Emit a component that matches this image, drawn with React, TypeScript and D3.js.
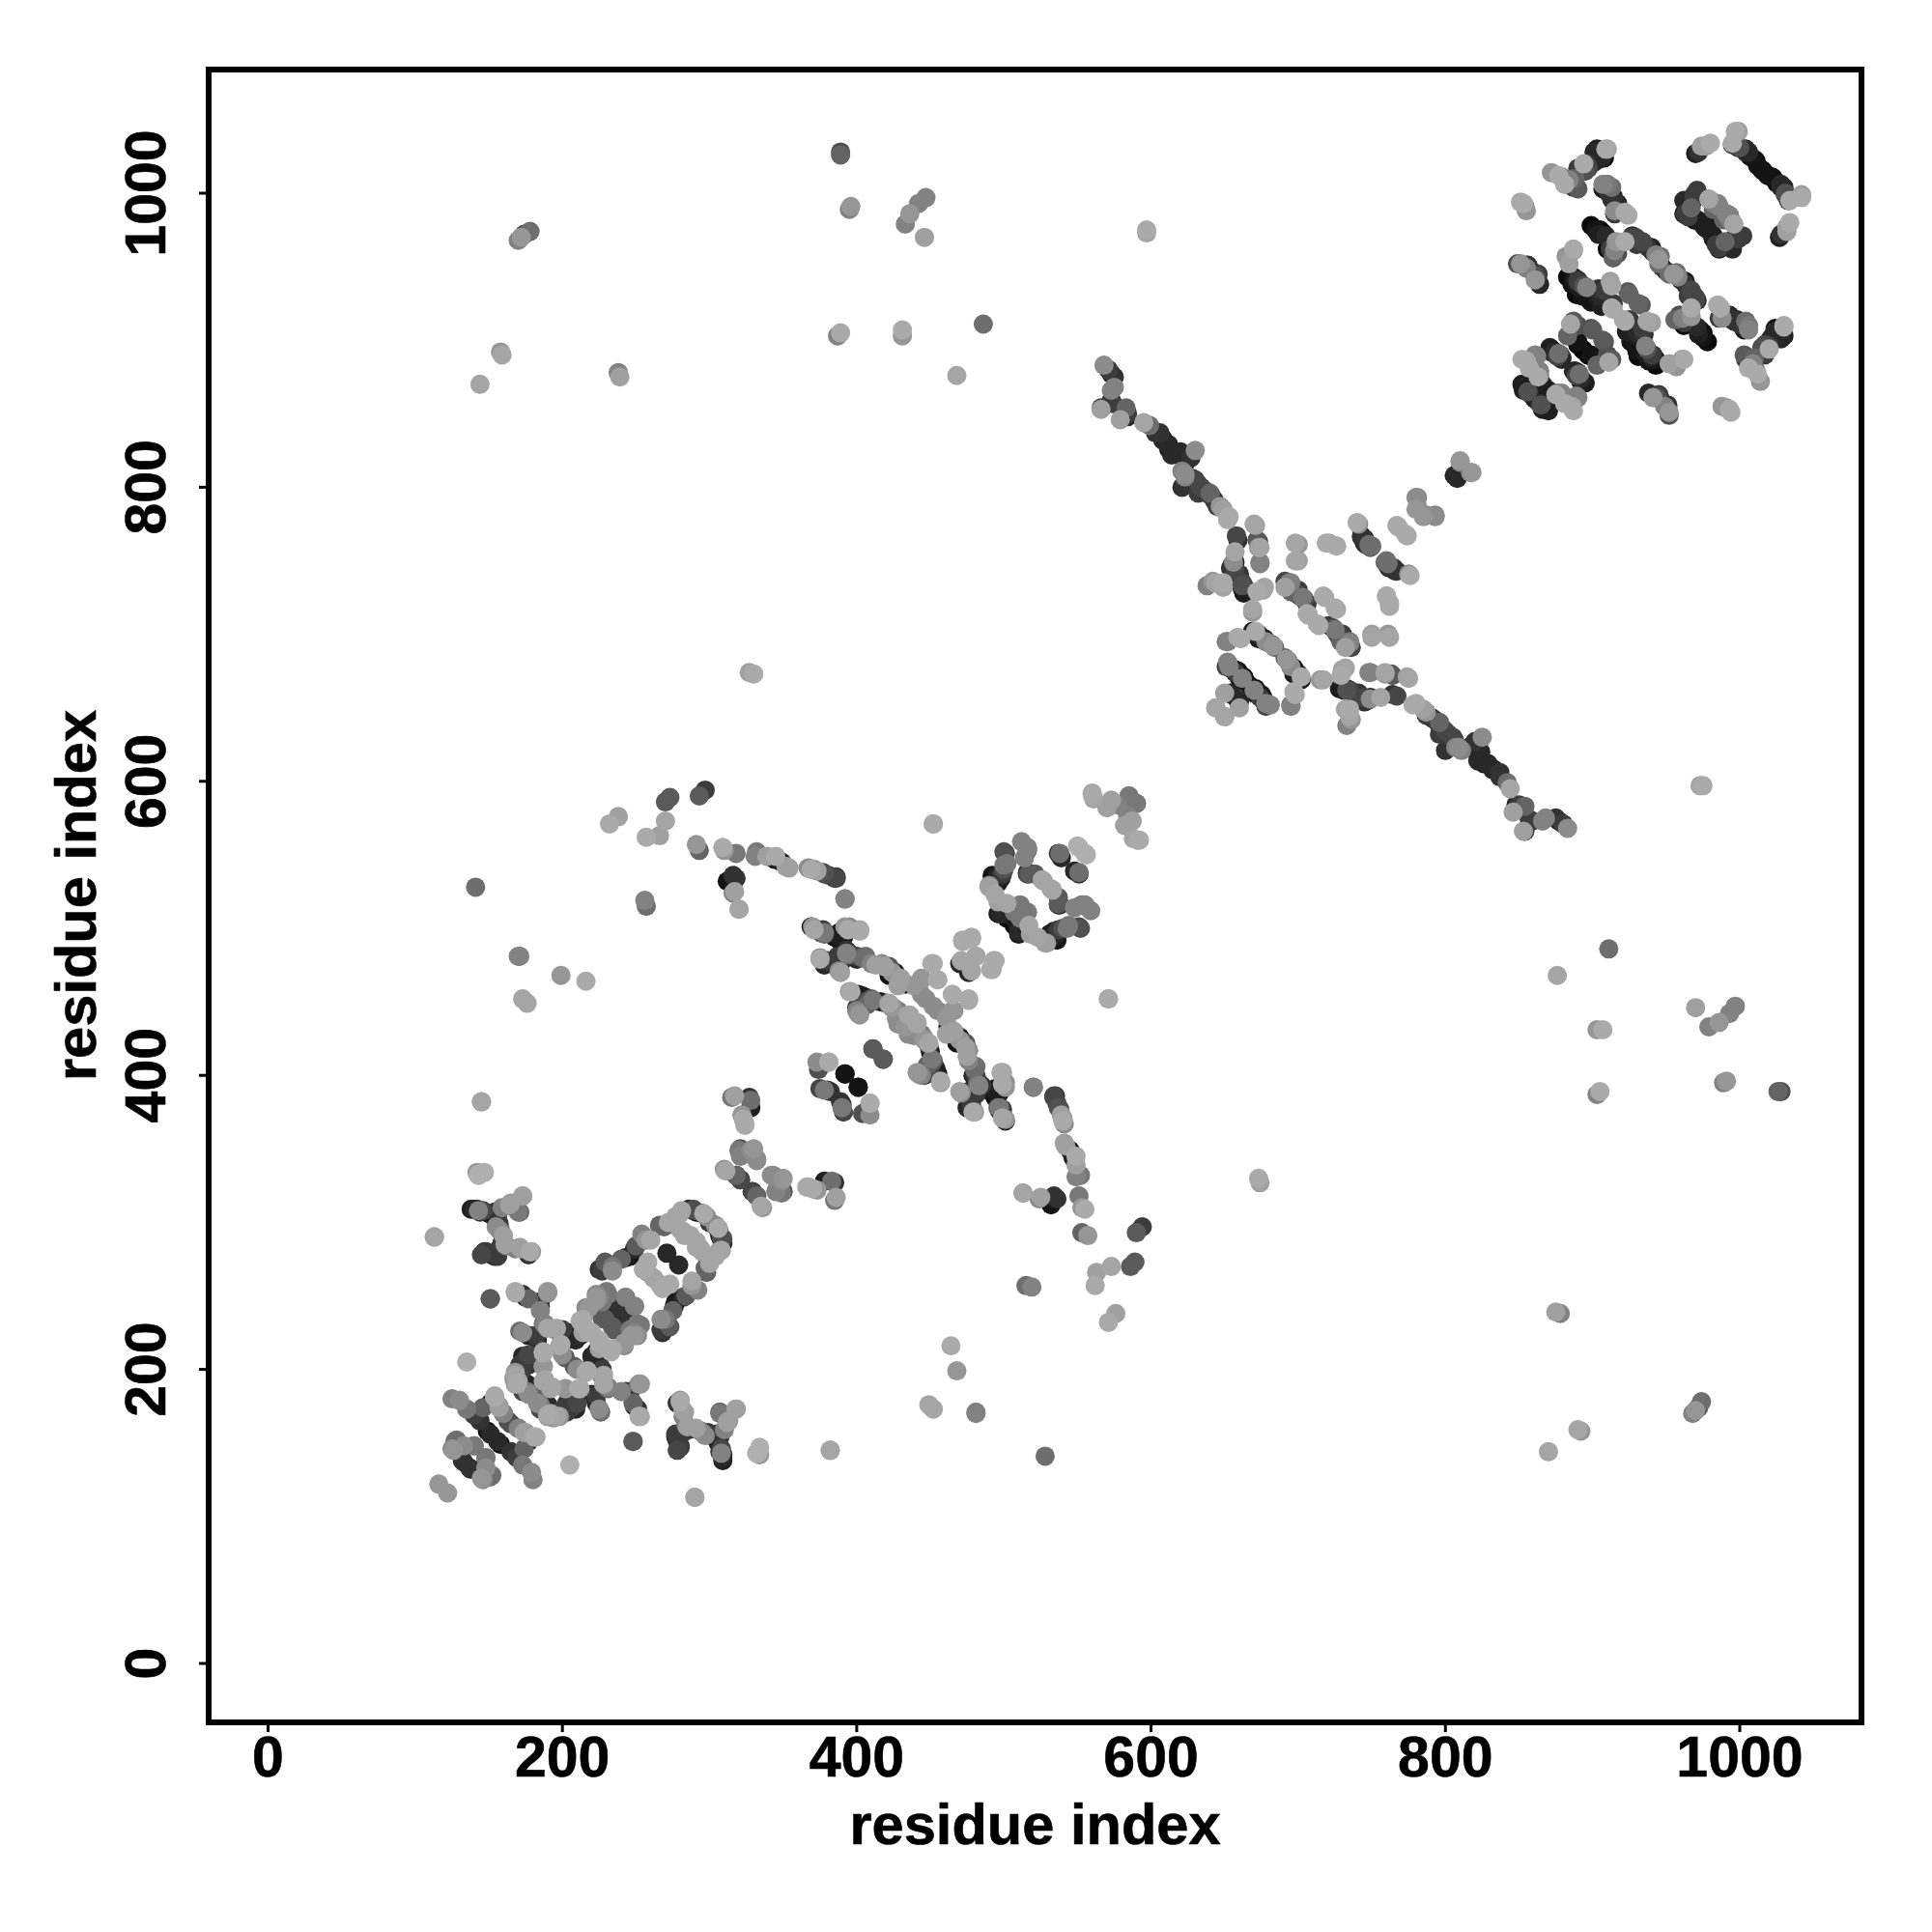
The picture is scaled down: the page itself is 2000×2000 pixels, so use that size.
import React from "react";
import * as d3 from "d3";

type C = [number, number, number];
const tickValues = [0, 200, 400, 600, 800, 1000];
const axisTitle = "residue index";

// Contact pairs: [residue i, residue j, grey level]. The map is symmetric, so each is drawn at (i,j) and (j,i).
const sparseContacts: C[] = [
[170,968,130],[174,972,80],[178,974,110],[172,970,150],[158,892,150],[159,890,165],[144,870,165],[238,878,130],[239,875,160],
[389,1026,100],[389,1028,80],[396,991,150],[395,989,130],[433,979,130],[436,986,150],[442,993,130],[447,997,130],[446,970,160],
[389,905,170],[387,903,130],[431,907,170],[431,903,150],[486,911,110],[468,876,165],[597,975,170],[330,673,170],[327,674,160],
[141,528,110],[170,481,130],[171,481,130],[173,452,165],[176,449,165],[199,468,150],[216,464,170],[145,382,165],
[232,571,170],[238,576,160],[257,562,170],[266,563,160],[270,573,165],[270,586,90],[273,589,90],[293,590,90],[297,594,60],
[291,557,150],[293,553,100],[256,519,130],[257,515,110],[309,555,170],[318,551,120],[316,536,50],[312,532,20],[320,513,165],[316,524,130],
[315,385,120],[327,385,50],[322,373,150],[324,367,165],[534,385,60],[539,373,160],[542,352,130],[549,331,130],[553,310,150],[534,318,50],[513,320,160],[525,317,160],
[806,808,40],[810,817,130],[818,810,150],[973,597,165],
];
const lowerLeftContacts: C[] = [
[143,332,175],[142,334,150],[113,290,165],[142,309,40],[146,308,70],[150,306,30],[156,305,40],[159,310,130],[165,313,150],[173,318,160],[170,307,120],
[157,295,130],[160,291,160],[147,280,60],[152,278,40],[156,277,60],[161,285,160],[168,282,130],[177,279,40],[172,282,160],[178,280,170],[151,248,90],
[168,253,170],[173,251,50],[177,248,100],[185,246,60],[190,253,150],[185,240,130],[188,231,130],[171,226,110],[177,223,40],[182,223,60],[190,228,165],[195,227,140],[200,227,60],
[175,207,60],[171,203,60],[167,194,150],[168,190,150],[173,185,70],[179,183,90],[185,176,120],[190,169,170],[196,168,165],[203,174,60],[210,177,70],
[187,211,170],[187,202,150],[188,193,165],[192,187,165],[202,187,150],[212,187,165],[199,217,170],[202,208,90],[210,200,140],[216,198,165],
[218,242,150],[213,233,170],[218,226,150],[225,249,130],[227,267,60],[234,270,120],[243,276,30],[249,282,40],[257,288,150],[254,292,130],[269,297,100],[272,300,165],[280,306,165],[289,308,20],[296,306,170],[304,298,140],[308,290,80],
[271,279,40],[255,268,170],[266,258,165],[283,291,165],[235,242,40],[240,237,50],[243,249,130],[249,243,120],[227,235,90],[234,229,90],[231,251,120],[223,249,150],[253,230,120],[247,223,150],
[234,214,165],[225,214,160],[220,209,40],[224,203,40],[228,196,165],[231,187,110],[243,185,40],[252,190,140],[225,173,140],[220,183,40],[249,175,30],[252,168,170],[248,151,90],
];
const bottomContacts: C[] = [
[125,180,130],[130,179,140],[135,173,120],[140,169,60],[144,165,50],[149,158,20],[156,151,40],[146,174,100],[154,182,165],[160,170,70],[157,175,150],[170,160,130],[174,157,160],[181,154,170],[177,151,40],[165,163,80],
[127,151,110],[125,146,140],[133,148,140],[140,148,120],[132,138,50],[137,133,50],[148,140,120],[152,128,110],[145,126,150],[116,122,150],[135,205,175],
[280,179,150],[278,177,50],[283,171,160],[278,154,50],[280,148,50],[286,159,50],[294,158,60],[299,157,60],[307,154,50],[308,143,130],[309,140,40],[307,171,100],[312,164,160],[318,173,150],
[333,143,170],[334,147,175],[290,113,150],[382,145,165],
[320,349,120],[332,343,110],[328,349,140],[310,336,150],[318,332,40],[321,329,70],[329,321,50],[335,311,165],[332,318,100],[342,332,140],[350,330,150],[350,321,80],[345,321,130],
[366,324,170],[370,323,170],[378,328,30],[383,328,110],[386,317,160],
];
const middleContacts: C[] = [
[452,571,160],[332,552,120],[339,549,160],[344,547,30],[352,542,160],[367,541,140],[371,540,130],[377,538,70],[381,536,70],[386,535,50],[392,520,120],
[370,501,150],[374,499,50],[378,497,120],[387,496,30],[392,501,150],[402,499,160],[375,480,150],[380,478,60],[388,476,30],[388,471,140],[395,483,60],[404,480,110],[417,476,140],[426,470,30],[430,466,160],
[395,457,160],[401,455,30],[410,452,90],[401,442,140],[405,448,80],[420,449,40],[425,446,140],[435,441,165],[441,436,165],[428,435,140],[444,428,120],[449,422,165],
[451,476,170],[455,465,170],[444,466,140],[444,455,140],[452,447,140],[465,455,170],[476,452,170],[465,444,150],[461,439,150],
[470,476,40],[478,471,165],[472,491,170],[478,494,170],[481,481,165],[492,472,165],[493,478,170],
[461,428,160],[468,427,30],[474,419,160],[481,406,110],[451,411,120],[454,404,30],[457,396,170],[441,402,150],[446,400,60],
[476,389,30],[479,375,170],[482,394,110],[470,389,160],[498,402,170],[499,394,170],[493,390,30],[496,378,100],[499,371,165],[497,376,40],[520,392,130],
[534,386,70],[537,378,80],[540,369,170],[541,354,160],[545,349,30],[549,345,170],[411,418,90],[418,411,90],
[376,407,80],[381,409,170],[392,401,20],[401,392,20],[380,390,40],[375,391,70],[389,382,50],[390,378,120],[404,374,80],[409,381,165],[409,373,140],
[500,552,80],[500,543,120],[516,555,130],[495,536,30],[490,529,150],[496,518,160],[498,510,40],[507,511,120],[516,511,120],[509,503,30],[517,502,165],[523,494,165],[534,496,40],[544,502,120],[551,501,70],
[516,537,60],[527,532,165],[533,526,165],[537,517,90],[554,516,130],[537,551,50],[539,548,40],[551,538,110],[550,556,175],[555,551,170],
[560,591,170],[573,587,150],[577,584,130],[585,590,120],[590,585,120],[587,573,160],[588,561,165],[592,560,165],[570,582,160],[571,452,170],
];
const helixContacts: C[] = [
[621,800,50],[632,796,60],[640,796,100],[647,787,150],[653,780,170],[670,775,165],[672,764,90],[658,767,70],[674,759,165],[657,756,165],[674,749,130],[655,747,30],[660,741,50],[662,735,70],[642,736,150],[649,735,170],[638,733,130],[677,732,165],[672,729,170],[669,717,165],
[698,762,165],[698,750,165],[719,762,170],[726,760,165],[694,735,130],[695,733,60],[703,725,120],[717,726,170],[725,718,170],[706,714,170],[713,707,170],[724,704,80],[730,700,60],[735,695,120],[732,691,160],
[740,776,170],[743,767,50],[750,760,110],[759,749,100],[765,745,50],[775,741,140],[767,774,170],[773,768,170],[780,793,140],[780,785,150],[793,781,130],[787,781,140],[760,726,170],[762,721,165],[750,700,160],[761,700,150],
[651,695,130],[659,698,170],[671,701,40],[675,698,20],[683,692,150],[693,682,90],[697,677,30],[702,671,170],[651,678,70],[657,676,30],[662,670,130],[671,663,20],[678,653,130],[654,660,40],[659,655,40],[644,650,160],[650,644,165],[660,650,160],[697,661,170],[695,652,120],[715,669,150],
[730,676,160],[748,674,130],[731,662,30],[738,660,40],[749,656,140],[764,659,50],[759,673,150],[763,673,60],[774,671,160],[735,644,165],[732,649,165],
[778,652,170],[785,649,160],[794,641,60],[798,636,40],[802,632,60],[806,628,50],[809,623,140],[825,630,140],[820,627,50],[824,620,40],[829,612,40],[833,608,30],[837,603,50],[844,595,165],[850,584,60],[846,579,160],[857,574,60],[853,566,160],[875,575,50],[883,568,140],[866,573,130],
];
const cterminalContacts: C[] = [
[997,1042,170],[974,1032,160],[980,1034,170],[970,1027,30],[995,1033,60],[1004,1028,40],[1011,1022,10],[1019,1012,20],[1028,1006,40],[1034,995,170],[1042,999,160],[1031,1000,80],[1028,972,50],[1032,977,160],
[969,999,60],[965,991,30],[969,982,20],[980,995,130],[985,993,130],[977,976,30],[984,965,60],[991,986,130],[996,979,165],[999,970,50],[990,967,100],
[909,1030,170],[903,1030,30],[896,1020,60],[890,1017,60],[872,1014,150],[879,1011,100],[887,1004,60],[881,1006,170],[907,1006,130],[913,1004,110],[913,996,50],[922,987,170],[915,988,140],[854,991,140],[851,994,170],
[902,975,20],[909,971,40],[915,965,50],[912,962,60],[922,967,170],[927,970,70],[938,963,50],[934,967,70],[946,957,110],[952,945,110],[958,943,130],[962,940,30],[970,929,60],[887,962,170],[882,957,150],
[849,952,80],[855,951,40],[861,944,80],[887,943,20],[894,937,80],[899,931,20],[905,930,40],[912,940,160],[924,933,90],[931,925,100],[913,922,170],[921,914,165],
[961,915,130],[969,910,10],[975,905,10],[959,917,80],[985,924,170],[986,915,60],[995,914,50],[1006,910,120],[1030,910,165],[1024,906,40],[1017,897,70],[1003,890,90],[1012,877,170],[1009,884,130],
[887,913,90],[899,908,80],[907,900,90],[890,897,10],[897,890,10],[911,885,165],[910,890,80],[925,914,60],[937,913,165],[927,901,20],[931,889,10],[941,890,50],[936,896,130],[952,884,160],[961,887,150],
[941,861,150],[951,856,50],[952,851,150],[945,863,60],[988,855,150],[993,853,170],[861,890,130],[852,887,170],[878,890,40],[872,892,30],[863,875,170],[891,877,110],[887,879,40],[893,873,30],[853,866,30],[864,857,40],[876,864,130],[889,862,130],[886,855,165],[870,866,30],
];
// Further contacts read from the dense strands.
const denseStrandContacts: C[] = [
[787,645,60],[791,643,50],[796,638,50],[800,634,70],[805,630,70],[807,623,130],[811,621,130],[816,623,40],[822,614,40],[826,612,30],[832,608,40],[837,606,50],[842,599,110],[848,584,40],[854,583,100],[859,573,60],[854,566,60],[868,575,130],[877,573,40],[880,571,60],
[225,268,50],[229,273,90],[234,267,140],[240,275,100],[246,277,20],[250,284,90],[260,288,165],[266,298,100],[275,301,165],[281,308,165],[286,309,30],[291,307,15],[300,300,60],[306,295,20],[309,289,80],[280,295,165],[287,291,165],[294,282,165],[299,273,100],[304,277,165],[258,273,170],[262,262,165],[269,256,165],
[216,242,140],[212,233,170],[223,251,140],[227,246,120],[220,225,170],[225,218,170],[231,214,170],[223,212,30],[220,203,40],[225,207,30],
[168,198,150],[173,209,40],[177,203,50],[176,190,40],[181,183,100],[183,177,140],[192,170,165],[205,178,40],[200,173,60],
[138,309,30],[144,307,50],[154,303,20],[155,297,140],[145,278,70],[154,277,40],[157,282,60],[162,284,130],
[492,536,20],[494,533,30],[496,531,30],[532,494,20],[534,498,30],[537,499,60],[540,500,80],[528,490,160],[496,510,30],[507,502,10],[510,498,40],[516,538,30],[521,537,90],[512,559,130],[516,553,100],[514,548,130],
[389,477,40],[387,481,60],[393,485,50],[400,481,70],[410,476,130],[422,474,90],[422,468,20],[400,455,20],[405,450,70],[416,450,30],[422,448,150],[427,439,140],[433,433,150],[438,428,50],[446,424,150],[400,444,130],
[462,433,30],[465,428,40],[470,424,150],[475,413,160],[479,400,40],[483,393,130],[474,387,20],[475,378,40],[491,389,20],[494,391,30],[499,377,60],[369,501,30],[385,494,20],[388,497,30],[395,501,140],[385,477,20],[377,478,30],[448,407,100],[453,406,20],
[901,1028,40],[894,1020,170],[890,1014,60],[887,1010,60],[904,1023,30],[907,1003,30],[911,1000,50],[999,1031,40],[1007,1025,10],[1016,1015,20],[1023,1010,20],[1030,1004,40],
[971,1000,50],[962,995,40],[962,986,30],[972,981,20],[982,971,30],[986,963,60],[996,969,50],[993,982,120],[986,984,20],[982,989,100],[1002,971,60],
[899,978,10],[904,972,30],[912,965,30],[916,967,150],[930,969,70],[940,963,30],[950,947,50],[955,945,150],[960,941,20],[965,930,60],[971,927,40],
[883,943,10],[888,940,30],[891,936,30],[898,930,20],[903,930,30],[904,935,50],[923,906,30],[926,899,20],[930,893,20],[938,886,20],[940,890,60],[934,908,60],
[962,910,10],[966,912,20],[973,907,10],[956,914,100],[993,917,40],[998,914,40],[1024,908,20],[1021,901,40],[1015,895,80],[1010,888,100],[1028,907,30],[890,899,20],[893,894,10],[883,903,100],
[871,895,30],[876,889,70],[879,888,40],[888,879,30],[892,874,40],[852,870,30],[861,860,30],[865,856,80],[864,879,130],[857,881,170],[938,864,40],[946,860,40],[949,855,130],
[654,745,50],[657,749,30],[659,740,50],[662,733,80],[691,736,70],[694,731,50],[698,728,70],[721,706,60],[726,701,70],[729,695,100],[669,702,30],[673,700,20],[678,695,140],[691,684,100],[695,678,40],[697,673,30],
[654,677,30],[659,675,20],[667,665,20],[670,660,20],[674,657,60],[681,652,130],[728,663,30],[733,663,30],[740,659,40],[744,657,70],[743,766,50],[748,761,110],[761,746,50],[762,745,40],
];

const contacts: C[] = [...denseStrandContacts, ...sparseContacts, ...lowerLeftContacts, ...bottomContacts, ...middleContacts, ...helixContacts, ...cterminalContacts];

const x = d3.scaleLinear().domain([0, 1000]).range([277.5, 1801]);
const y = d3.scaleLinear().domain([0, 1000]).range([1722, 200]);
const font = "'Liberation Sans', Arial, sans-serif";
const grey = (g: number) => d3.rgb(g, g, g).formatHex();

export default function App() {
  const dots = contacts
    .flatMap(([i, j, g], k) => [
      { px: x(i), py: y(j), g, key: `a${k}` },
      { px: x(j), py: y(i), g, key: `b${k}` },
    ])
    .sort((a, b) => d3.ascending(a.g, b.g));
  return (
    <svg width={2000} height={2000} style={{ position: "absolute", left: 0, top: 0, background: "#fff" }} fontFamily={font} fontWeight="bold" fill="#000">
      {dots.map((d) => <circle key={d.key} cx={d.px} cy={d.py} r={10} fill={grey(d.g)} />)}
      <rect x={216} y={72} width={1711} height={1711} fill="none" stroke="#000" strokeWidth={6} />
      {tickValues.map((t) => (
        <g key={t}>
          <line x1={x(t)} x2={x(t)} y1={1783} y2={1793} stroke="#000" strokeWidth={3} />
          <text x={x(t)} y={1839} fontSize={59} stroke="#000" strokeWidth={0.6} textAnchor="middle">{t}</text>
          <line x1={216} x2={206} y1={y(t)} y2={y(t)} stroke="#000" strokeWidth={3} />
          <text transform={`translate(171,${y(t)}) rotate(-90)`} fontSize={59} stroke="#000" strokeWidth={0.6} textAnchor="middle">{t}</text>
        </g>
      ))}
      <text x={1071.5} y={1909} fontSize={59.6} stroke="#000" strokeWidth={0.6} textAnchor="middle">{axisTitle}</text>
      <text transform="translate(99,927) rotate(-90)" fontSize={59.6} stroke="#000" strokeWidth={0.6} textAnchor="middle">{axisTitle}</text>
    </svg>
  );
}
